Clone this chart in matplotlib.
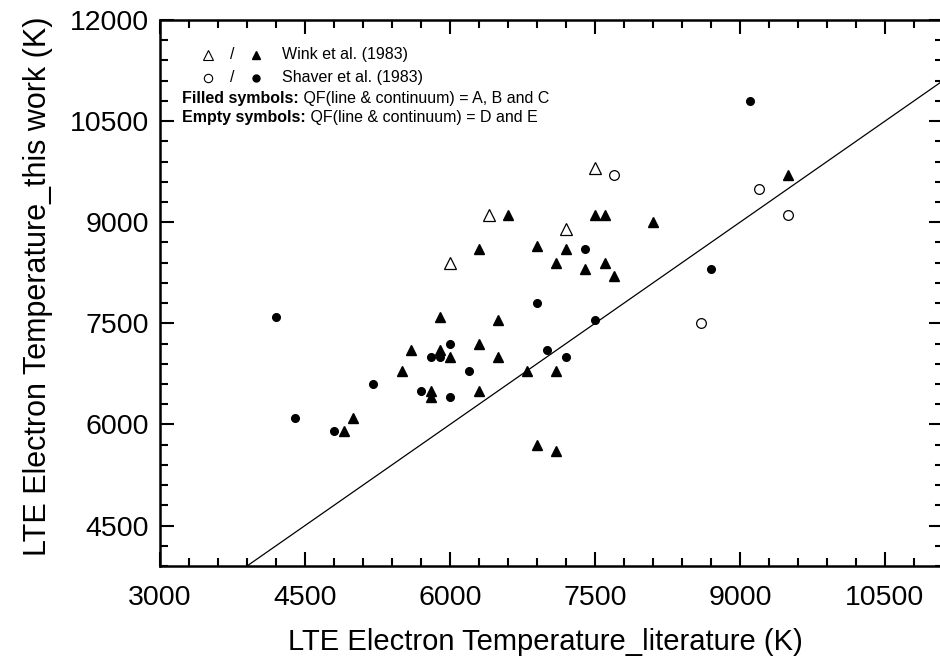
import matplotlib
matplotlib.use("Agg")
import matplotlib.pyplot as plt
from matplotlib.ticker import MultipleLocator

plt.rcParams['font.family'] = ['Liberation Sans', 'DejaVu Sans']

# ---- data (K) ----
wink_filled_x = [6600, 7500, 7600, 8100, 6300, 6900, 7200, 7100, 7600, 7400, 7700, 9500,
                 5900, 6500, 5600, 5900, 6300, 6000, 6500, 5500, 6800, 7100, 5800, 5800,
                 6300, 5000, 4900, 6900, 7100]
wink_filled_y = [9100, 9100, 9100, 9000, 8600, 8650, 8600, 8400, 8400, 8300, 8200, 9700,
                 7600, 7550, 7100, 7100, 7200, 7000, 7000, 6800, 6800, 6800, 6500, 6400,
                 6500, 6100, 5900, 5700, 5600]
wink_empty_x = [7500, 6400, 7200, 6000]
wink_empty_y = [9800, 9100, 8900, 8400]

shaver_filled_x = [7400, 8700, 6900, 4200, 7500, 6000, 5800, 5900, 7000, 7200, 6200, 5200,
                   5700, 6000, 4400, 4800, 9100]
shaver_filled_y = [8600, 8300, 7800, 7600, 7550, 7200, 7000, 7000, 7100, 7000, 6800, 6600,
                   6500, 6400, 6100, 5900, 10800]
shaver_empty_x = [7700, 9200, 9500, 8600]
shaver_empty_y = [9700, 9500, 9100, 7500]

identity = [3900, 11100]

x_ticks = [3000, 4500, 6000, 7500, 9000, 10500]
y_ticks = [4500, 6000, 7500, 9000, 10500, 12000]

xlabel = "LTE Electron Temperature_literature (K)"
ylabel = "LTE Electron Temperature_this work (K)"

# ---- figure ----
fig = plt.figure(figsize=(9.4, 6.7), dpi=100)
W, H = 940, 670
left, right, top, bottom = 160, 943, 20, 566
ax = fig.add_axes([left / W, 1 - bottom / H, (right - left) / W, (bottom - top) / H])

ax.plot(identity, identity, color='black', lw=0.9, zorder=2)

ax.plot(wink_filled_x, wink_filled_y, linestyle='none', marker='^', ms=7, color='black', zorder=3)
ax.plot(wink_empty_x, wink_empty_y, linestyle='none', marker='^', ms=8, mfc='white', mec='black',
        mew=0.9, zorder=3)
ax.plot(shaver_filled_x, shaver_filled_y, linestyle='none', marker='o', ms=5.5, color='black', zorder=3)
ax.plot(shaver_empty_x, shaver_empty_y, linestyle='none', marker='o', ms=7, mfc='white', mec='black',
        mew=0.9, zorder=3)

ax.set_xlim(3000, 11100)
ax.set_ylim(3900, 12000)
ax.set_xticks(x_ticks)
ax.set_yticks(y_ticks)
ax.set_xticklabels([str(v) for v in x_ticks])
ax.set_yticklabels([str(v) for v in y_ticks])
ax.xaxis.set_minor_locator(MultipleLocator(300))
ax.yaxis.set_minor_locator(MultipleLocator(300))
ax.tick_params(which='both', direction='in', top=True, right=True, width=1.5)
ax.tick_params(which='major', length=10, labelsize=20.5)
ax.tick_params(axis='x', which='major', pad=14)
ax.tick_params(axis='y', which='major', pad=8)
ax.tick_params(which='minor', length=5.5)
for s in ax.spines.values():
    s.set_linewidth(1.8)

fig.text(545 / W, 1 - 642 / H, xlabel, ha='center', va='center', fontsize=21)
fig.text(38 / W, 1 - 286 / H, ylabel, ha='center', va='center', rotation=90, fontsize=22)

# ---- legend block ----
fs = 11.5
r1, r2 = 0.9359, 0.8938
ax.plot([0.0613], [r1], transform=ax.transAxes, marker='^', ms=7, mfc='white', mec='black',
        mew=0.8, linestyle='none', clip_on=False)
ax.text(0.092, r1, '/', transform=ax.transAxes, ha='center', va='center', fontsize=fs)
ax.plot([0.1226], [r1], transform=ax.transAxes, marker='^', ms=6, color='black', linestyle='none')
ax.text(0.1558, r1, 'Wink et al. (1983)', transform=ax.transAxes, ha='left', va='center', fontsize=fs)

ax.plot([0.0613], [r2], transform=ax.transAxes, marker='o', ms=6, mfc='white', mec='black',
        mew=0.8, linestyle='none')
ax.text(0.092, r2, '/', transform=ax.transAxes, ha='center', va='center', fontsize=fs)
ax.plot([0.1226], [r2], transform=ax.transAxes, marker='o', ms=5, color='black', linestyle='none')
ax.text(0.1558, r2, 'Shaver et al. (1983)', transform=ax.transAxes, ha='left', va='center', fontsize=fs)

t1 = ax.text(0.0281, 0.857, 'Filled symbols:', transform=ax.transAxes, ha='left', va='center',
             fontsize=fs, fontweight='bold')
ax.annotate(' QF(line & continuum) = A, B and C', xy=(1, 0.5), xycoords=t1, ha='left', va='center',
            fontsize=fs)
t2 = ax.text(0.0281, 0.8223, 'Empty symbols:', transform=ax.transAxes, ha='left', va='center',
             fontsize=fs, fontweight='bold')
ax.annotate(' QF(line & continuum) = D and E', xy=(1, 0.5), xycoords=t2, ha='left', va='center',
            fontsize=fs)

fig.savefig('out.png', dpi=100)
